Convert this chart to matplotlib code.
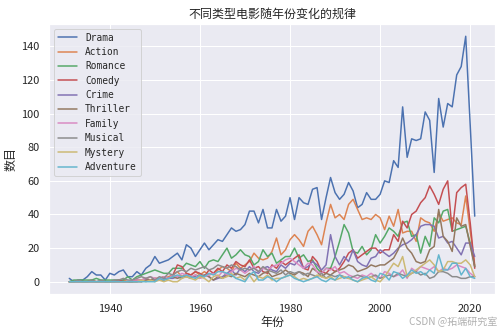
import numpy as np
import matplotlib
matplotlib.use("Agg")
import matplotlib.pyplot as plt
import seaborn as sns

years = list(range(1931, 2022))

drama = [2, 0, 1, 1, 3, 6, 4, 4, 1, 5,
         4, 6, 7, 3, 3, 6, 4, 8, 10, 15,
         11, 12, 13, 15, 17, 13, 22, 20, 15, 19,
         23, 19, 22, 25, 24, 28, 32, 30, 31, 34,
         42, 42, 35, 43, 32, 32, 43, 36, 39, 50,
         37, 50, 47, 46, 55, 56, 37, 50, 62, 53,
         49, 52, 59, 54, 44, 46, 53, 49, 49, 52,
         60, 59, 72, 68, 104, 74, 85, 84, 85, 101,
         96, 65, 109, 92, 106, 104, 123, 128, 146, 93, 39]
action = [0, 0, 0, 0, 0, 1, 0, 0, 0, 0,
          0, 0, 1, 0, 0, 1, 0, 1, 1, 2,
          1, 2, 3, 4, 6, 3, 5, 4, 6, 4,
          6, 4, 5, 7, 9, 8, 6, 11, 8, 10,
          12, 17, 14, 13, 14, 18, 26, 16, 19, 25,
          28, 25, 21, 30, 33, 28, 22, 35, 46, 38,
          40, 37, 46, 49, 43, 37, 38, 37, 40, 38,
          31, 39, 33, 43, 29, 30, 30, 24, 38, 36,
          35, 30, 41, 36, 37, 38, 35, 34, 51, 30, 10]
romance = [0, 1, 1, 1, 1, 1, 2, 1, 1, 1,
           1, 1, 1, 3, 1, 3, 4, 5, 6, 7,
           6, 5, 5, 8, 8, 8, 11, 10, 9, 12,
           8, 12, 13, 12, 16, 20, 14, 16, 19, 16,
           15, 10, 12, 19, 15, 17, 11, 13, 15, 15,
           20, 14, 16, 12, 13, 8, 5, 8, 8, 15,
           24, 34, 29, 18, 17, 21, 16, 19, 28, 23,
           27, 32, 30, 27, 35, 36, 27, 28, 17, 27,
           21, 38, 35, 42, 43, 30, 31, 32, 33, 23, 9]
comedy = [0, 0, 0, 0, 0, 0, 0, 0, 0, 0,
          0, 1, 0, 0, 0, 1, 1, 2, 1, 2,
          2, 3, 2, 4, 10, 9, 5, 4, 6, 5,
          3, 7, 5, 8, 6, 10, 8, 12, 10, 9,
          13, 8, 9, 6, 5, 10, 8, 12, 10, 12,
          14, 16, 8, 7, 15, 12, 6, 5, 8, 6,
          8, 12, 17, 19, 14, 16, 18, 20, 20, 17,
          19, 19, 28, 24, 36, 32, 40, 42, 47, 50,
          57, 52, 46, 55, 60, 30, 53, 56, 58, 35, 8]
crime = [0, 0, 0, 0, 0, 0, 0, 0, 0, 0,
         0, 0, 0, 0, 0, 0, 1, 1, 1, 1,
         1, 2, 2, 2, 3, 2, 4, 3, 3, 2,
         4, 3, 1, 2, 3, 5, 7, 4, 8, 6,
         9, 6, 5, 8, 9, 7, 6, 10, 8, 11,
         10, 13, 8, 9, 12, 10, 7, 10, 28, 15,
         10, 15, 12, 19, 12, 10, 9, 14, 15, 19,
         17, 15, 17, 20, 22, 23, 25, 28, 33, 34,
         34, 33, 26, 27, 23, 24, 20, 16, 23, 23, 15]
thriller = [0, 0, 0, 0, 0, 0, 0, 0, 0, 0,
            0, 0, 0, 0, 0, 0, 0, 1, 1, 1,
            1, 1, 2, 3, 2, 3, 3, 2, 4, 3,
            4, 3, 1, 3, 2, 4, 3, 5, 4, 3,
            5, 4, 3, 5, 6, 3, 4, 5, 7, 5,
            4, 6, 5, 3, 8, 6, 3, 5, 4, 6,
            7, 8, 10, 9, 6, 7, 8, 10, 9, 10,
            10, 12, 14, 19, 26, 20, 17, 12, 11, 12,
            19, 21, 43, 27, 24, 18, 38, 33, 34, 21, 9]
family = [0, 0, 0, 0, 0, 0, 0, 0, 0, 0,
          0, 0, 0, 0, 1, 1, 1, 2, 3, 2,
          1, 3, 2, 4, 3, 5, 4, 3, 4, 2,
          3, 4, 5, 3, 6, 4, 6, 8, 7, 5,
          7, 9, 6, 8, 7, 9, 10, 11, 13, 14,
          12, 10, 8, 11, 10, 6, 5, 8, 7, 9,
          5, 6, 4, 3, 2, 4, 3, 5, 3, 2,
          6, 5, 3, 4, 7, 2, 8, 6, 9, 8,
          7, 9, 6, 8, 7, 8, 10, 9, 8, 5, 3]
musical = [0, 0, 1, 0, 0, 1, 0, 1, 0, 0,
           1, 1, 2, 1, 1, 2, 3, 2, 3, 1,
           3, 2, 5, 4, 6, 7, 6, 8, 7, 8,
           9, 7, 8, 10, 9, 8, 10, 9, 7, 8,
           7, 8, 6, 9, 7, 6, 5, 7, 4, 6,
           5, 6, 4, 5, 4, 3, 5, 2, 4, 3,
           4, 3, 2, 3, 4, 3, 2, 3, 4, 2,
           3, 4, 3, 5, 4, 3, 5, 6, 4, 5,
           2, 3, 6, 6, 5, 3, 3, 2, 2, 3, 3]
mystery = [0, 0, 0, 0, 0, 0, 0, 0, 0, 0,
           0, 0, 0, 0, 0, 0, 1, 0, 1, 0,
           1, 0, 1, 0, 0, 2, 3, 2, 1, 3,
           2, 0, 3, 4, 2, 3, 5, 2, 3, 1,
           4, 0, 3, 2, 4, 1, 2, 2, 3, 4,
           3, 1, 2, 1, 2, 4, 3, 2, 3, 1,
           2, 3, 2, 1, 0, 1, 2, 3, 1, 0,
           3, 7, 11, 9, 15, 3, 5, 7, 9, 11,
           13, 10, 6, 7, 12, 12, 11, 11, 13, 10, 3]
adventure = [0, 0, 0, 0, 0, 0, 0, 0, 0, 0,
             0, 0, 0, 0, 0, 0, 0, 0, 0, 0,
             2, 1, 2, 3, 4, 3, 4, 3, 2, 4,
             3, 5, 4, 6, 6, 5, 4, 2, 1, 0,
             4, 6, 1, 1, 3, 2, 0, 2, 3, 4,
             2, 1, 0, 1, 2, 3, 1, 0, 2, 1,
             4, 2, 3, 1, 0, 2, 3, 1, 0, 5,
             4, 1, 6, 5, 2, 4, 7, 5, 6, 4,
             7, 5, 16, 7, 7, 11, 11, 4, 8, 3, 2]

genres = ["Drama", "Action", "Romance", "Comedy", "Crime",
          "Thriller", "Family", "Musical", "Mystery", "Adventure"]
series = [drama, action, romance, comedy, crime,
          thriller, family, musical, mystery, adventure]

sns.set_theme()
plt.rcParams["font.family"] = ["Noto Sans CJK SC", "DejaVu Sans"]
plt.rcParams["axes.unicode_minus"] = False

fig = plt.figure(figsize=(501 / 72, 334 / 72), dpi=72)
ax = fig.add_axes([49 / 501, 40 / 334, 446 / 501, 270 / 334])

for name, vals in zip(genres, series):
    ax.plot(years, vals, label=name)

ax.set_title("不同类型电影随年份变化的规律", fontsize=12)
ax.set_xlabel("年份", fontsize=12, labelpad=2)
ax.set_ylabel("数目", fontsize=12)
ax.legend(loc="upper left", prop={"family": "DejaVu Sans Mono", "size": 9.5},
          labelspacing=0.46, handletextpad=0.9)

fig.text(0.992, 0.02, "CSDN @拓端研究室", ha="right", va="bottom",
         fontsize=10, color="#b0b0b0")

fig.savefig("out.png", dpi=72)
